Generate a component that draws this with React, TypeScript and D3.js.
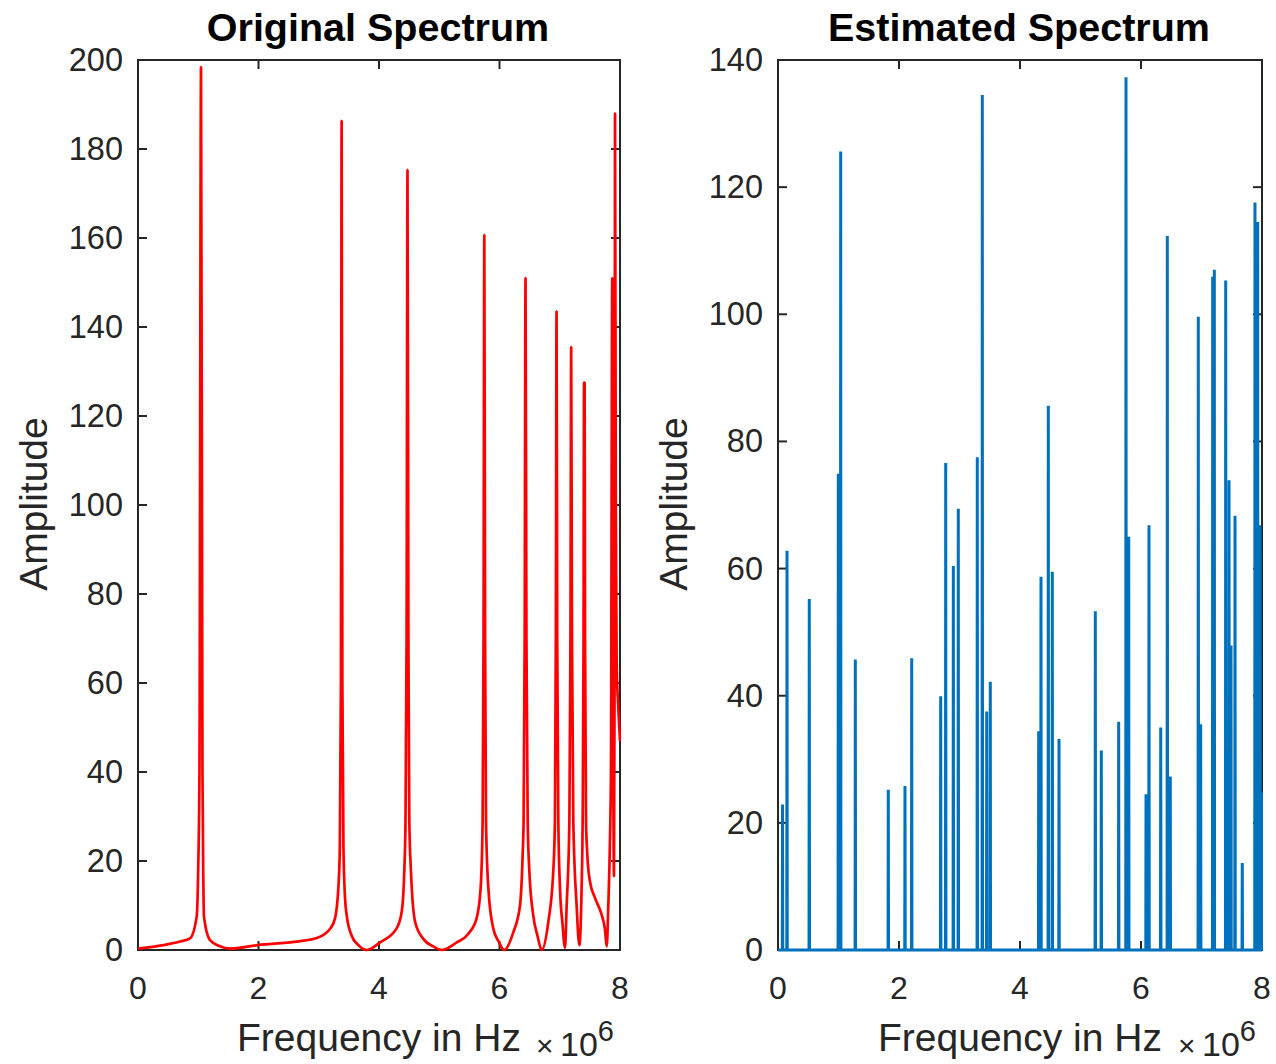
import React from 'react';
import * as d3 from 'd3';

// ---------- data (frequency in units of 1e6 Hz) ----------
const xTickValues = [0, 2, 4, 6, 8];
const origYTicks = [0, 20, 40, 60, 80, 100, 120, 140, 160, 180, 200];
const estYTicks = [0, 20, 40, 60, 80, 100, 120, 140];

// Original spectrum: points
const origFreq = [
  0, 0.42, 0.7, 0.863, 0.974, 1.0, 1.02, 1.046, 1.07, 1.085, 1.095, 1.195, 1.35, 1.527,
  1.99, 2.63, 2.97, 3.1, 3.19, 3.27, 3.325, 3.35, 3.368, 3.38, 3.392, 3.41, 3.435, 3.464,
  3.547, 3.65, 3.795,
  4.017, 4.29, 4.377, 4.42, 4.44, 4.458, 4.473, 4.488, 4.503, 4.53, 4.6, 4.735, 4.9, 5.04,
  5.29, 5.48, 5.62, 5.687, 5.72, 5.735, 5.748, 5.761, 5.776, 5.815, 5.897, 5.99, 6.075,
  6.23, 6.34, 6.385, 6.4, 6.418, 6.432, 6.447, 6.468, 6.495, 6.56, 6.63, 6.7,
  6.81, 6.893, 6.92, 6.935, 6.947, 6.958, 6.976, 7.004, 7.045, 7.087,
  7.115, 7.16, 7.178, 7.19, 7.203, 7.225, 7.28, 7.325,
  7.363, 7.38, 7.395, 7.403, 7.413, 7.42, 7.436, 7.457, 7.5, 7.585, 7.696, 7.75, 7.78,
  7.806, 7.834, 7.85, 7.872, 7.885, 7.9, 7.91, 7.918, 7.93, 7.945, 7.97, 8.0,
];
const origAmp = [
  0.3, 1.1, 1.9, 2.6, 7.5, 18.7, 40, 198.4, 40, 15, 7.5, 2.2, 0.9, 0.3,
  1.1, 1.9, 2.7, 3.6, 4.8, 7.1, 13.9, 23, 60, 186.3, 60, 23, 12, 7.8,
  3.2, 1.2, 0,
  1.7, 4.8, 8.6, 17.8, 29, 70, 175.3, 70, 29, 17.8, 6.3, 2.5, 0.8, 0,
  1.7, 3.6, 7.1, 13.9, 29, 70, 160.7, 70, 29, 13.9, 4.8, 1.8, 0,
  4, 10, 21.6, 29, 70, 151, 70, 29, 17.8, 7.8, 3.2, 0,
  6.3, 17.8, 29, 70, 143.5, 70, 29, 13.9, 6, 0.5,
  10, 29, 70, 135.5, 70, 29, 10, 1.1,
  13.9, 29, 70, 127.5, 127.5, 70, 29, 21.6, 15.5, 11.7, 7.9, 4.7, 0.8,
  10, 25, 40, 151, 60, 16.6, 60, 188, 100, 64, 55, 47,
];

// Estimated spectrum: spike positions and heights
const estFreq = [
  0.075, 0.149, 0.517, 0.997, 1.036, 1.278, 1.823, 2.099, 2.21, 2.689,
  2.772, 2.898, 2.98, 3.294, 3.377, 3.45, 3.509, 4.309, 4.347, 4.468,
  4.534, 4.645, 5.245, 5.344, 5.631, 5.752, 5.797, 6.083, 6.132, 6.326,
  6.435, 6.484, 6.947, 6.986, 7.185, 7.212, 7.4, 7.455, 7.488, 7.554,
  7.674, 7.884, 7.929, 7.967, 8.0,
];
const estAmp = [
  22.9, 62.8, 55.2, 74.9, 125.6, 45.7, 25.2, 25.8, 45.9, 39.9,
  76.6, 60.4, 69.4, 77.5, 134.5, 37.5, 42.2, 34.4, 58.7, 85.6,
  59.5, 33.2, 53.3, 31.4, 35.9, 137.3, 65, 24.5, 66.8, 35,
  112.3, 27.3, 99.6, 35.5, 105.9, 107, 105.3, 73.9, 47.9, 68.3,
  13.7, 117.6, 114.5, 66.8, 24.8,
];

// ---------- layout ----------
const W = 1276;
const H = 1064;
const TOP = 60;
const BOTTOM = 950;
const FONT = "'Liberation Sans', Arial, Helvetica, sans-serif";
const AXIS = '#262626';
const TICK_LEN = 9;

type PanelProps = {
  left: number;
  right: number;
  yMax: number;
  yTicks: number[];
  title: string;
  color: string;
  width: number;
  smooth: boolean;
  points: [number, number][];
  id: string;
};

function Panel({ left, right, yMax, yTicks, title, color, width, smooth, points, id }: PanelProps) {
  const x = d3.scaleLinear().domain([0, 8]).range([left, right]);
  const y = d3.scaleLinear().domain([0, yMax]).range([BOTTOM, TOP]);
  const line = d3
    .line<[number, number]>()
    .x((d) => x(d[0]))
    .y((d) => y(d[1]))
    .curve(smooth ? d3.curveMonotoneX : d3.curveLinear);
  const cx = (left + right) / 2;
  return (
    <g>
      <defs>
        <clipPath id={id}>
          <rect x={left} y={TOP - 2} width={right - left + 1} height={BOTTOM - TOP + 4} />
        </clipPath>
      </defs>
      {/* box */}
      <rect x={left} y={TOP} width={right - left} height={BOTTOM - TOP} fill="none" stroke={AXIS} strokeWidth={2} />
      {/* x ticks */}
      {xTickValues.map((t) => (
        <g key={'x' + t}>
          <line x1={x(t)} x2={x(t)} y1={BOTTOM} y2={BOTTOM - TICK_LEN} stroke={AXIS} strokeWidth={2} />
          <line x1={x(t)} x2={x(t)} y1={TOP} y2={TOP + TICK_LEN} stroke={AXIS} strokeWidth={2} />
          <text x={x(t)} y={999} textAnchor="middle" fontSize={32} fill={AXIS} fontFamily={FONT}>
            {t}
          </text>
        </g>
      ))}
      {/* y ticks */}
      {yTicks.map((t) => (
        <g key={'y' + t}>
          <line x1={left} x2={left + TICK_LEN} y1={y(t)} y2={y(t)} stroke={AXIS} strokeWidth={2} />
          <line x1={right} x2={right - TICK_LEN} y1={y(t)} y2={y(t)} stroke={AXIS} strokeWidth={2} />
          <text x={left - 15} y={y(t) + 11} textAnchor="end" fontSize={32.5} fill={AXIS} fontFamily={FONT}>
            {t}
          </text>
        </g>
      ))}
      {/* data */}
      <path
        d={line(points) || ''}
        fill="none"
        stroke={color}
        strokeWidth={width}
        strokeLinejoin="bevel"
        clipPath={`url(#${id})`}
      />
      {/* title */}
      <text x={cx - 1} y={41} textAnchor="middle" fontSize={39.5} fontWeight="bold" fill="#000" fontFamily={FONT}>
        {title}
      </text>
      {/* x label */}
      <text x={cx} y={1051} textAnchor="middle" fontSize={39} fill={AXIS} fontFamily={FONT}>
        Frequency in Hz
      </text>
      {/* exponent */}
      <text y={1056} fontSize={34} fill={AXIS} fontFamily={FONT}>
        <tspan x={right - 84} fontSize={30}>×</tspan>
        <tspan x={right - 60}>10</tspan>
        <tspan fontSize={29} dy={-15}>6</tspan>
      </text>
      {/* y label */}
      <text
        transform={`translate(${left - 91},${504}) rotate(-90)`}
        textAnchor="middle"
        fontSize={39}
        fill={AXIS}
        fontFamily={FONT}
      >
        Amplitude
      </text>
    </g>
  );
}

export default function App() {
  const origPoints: [number, number][] = origFreq.map((f, i) => [f, origAmp[i]]);
  const spikeHalf = 0.004;
  const estPoints: [number, number][] = [[0, 0]];
  estFreq.forEach((f, i) => {
    estPoints.push([Math.max(0, f - spikeHalf), 0]);
    estPoints.push([f, estAmp[i]]);
    if (f < 8) estPoints.push([Math.min(8, f + spikeHalf), 0]);
  });
  return (
    <svg
      width={W}
      height={H}
      style={{ position: 'absolute', left: 0, top: 0, background: '#fff' }}
    >
      <rect x={0} y={0} width={W} height={H} fill="#fff" />
      <Panel
        id="clipL"
        left={138}
        right={620}
        yMax={200}
        yTicks={origYTicks}
        title="Original Spectrum"
        color="#FF0000"
        width={2.7}
        smooth={true}
        points={origPoints}
      />
      <Panel
        id="clipR"
        left={778}
        right={1262}
        yMax={140}
        yTicks={estYTicks}
        title="Estimated Spectrum"
        color="#0072BD"
        width={3}
        smooth={false}
        points={estPoints}
      />
    </svg>
  );
}
